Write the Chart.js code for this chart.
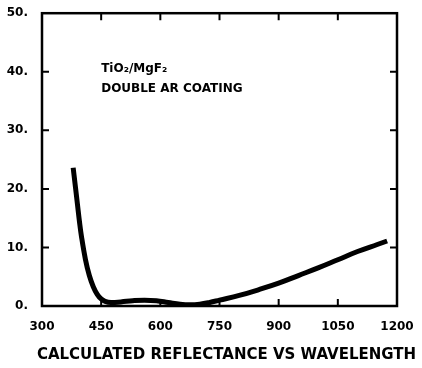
<!DOCTYPE html>
<html>
<head>
<meta charset="utf-8">
<script src="https://cdn.jsdelivr.net/npm/chart.js@4.4.0/dist/chart.umd.min.js"></script>
<style>
  html, body { margin: 0; padding: 0; background: #fff; }
  canvas { display: block; }
</style>
</head>
<body>
<canvas id="c" width="422" height="368"></canvas>
<script>
// wavelength (nm) and calculated reflectance (%)
var wavelength = [379, 385, 390, 395, 400, 410, 420, 430, 440, 450, 460, 475, 500, 530, 560, 590, 620, 650, 675, 700, 725, 750, 800, 850, 900, 950, 1000, 1050, 1100, 1150, 1175];
var reflectance = [23.6, 20.2, 17.3, 14.4, 11.9, 8.0, 5.2, 3.3, 2.0, 1.2, 0.8, 0.6, 0.7, 0.9, 1.0, 0.9, 0.6, 0.3, 0.2, 0.3, 0.6, 1.0, 1.8, 2.8, 3.9, 5.2, 6.5, 7.9, 9.3, 10.5, 11.1];

var xTicks = [300, 450, 600, 750, 900, 1050, 1200];
var yTicks = [0, 10, 20, 30, 40, 50];

var chartTitle = 'CALCULATED REFLECTANCE VS WAVELENGTH';
var noteLines = ['TiO\u2082/MgF\u2082', 'DOUBLE AR COATING'];

var points = wavelength.map(function (w, i) { return { x: w, y: reflectance[i] }; });

var tickFont = { family: 'DejaVu Sans', weight: 'bold', size: 12 };

// box frame, inward ticks, note and caption
var framePlugin = {
  id: 'frame',
  afterDraw: function (chart) {
    var ctx = chart.ctx;
    var a = chart.chartArea;
    var xs = chart.scales.x;
    var ys = chart.scales.y;
    var len = 7;

    ctx.save();
    ctx.strokeStyle = '#000';
    ctx.lineWidth = 2.5;
    ctx.strokeRect(a.left, a.top, a.right - a.left, a.bottom - a.top);

    ctx.lineWidth = 2;
    ctx.beginPath();
    xTicks.slice(1, -1).forEach(function (v) {
      var px = xs.getPixelForValue(v);
      ctx.moveTo(px, a.bottom);
      ctx.lineTo(px, a.bottom - len);
      ctx.moveTo(px, a.top);
      ctx.lineTo(px, a.top + len);
    });
    yTicks.slice(1, -1).forEach(function (v) {
      var py = ys.getPixelForValue(v);
      ctx.moveTo(a.left, py);
      ctx.lineTo(a.left + len, py);
      ctx.moveTo(a.right, py);
      ctx.lineTo(a.right - len, py);
    });
    ctx.stroke();

    // note inside the plot
    ctx.fillStyle = '#000';
    ctx.textAlign = 'left';
    ctx.textBaseline = 'middle';
    ctx.font = 'bold 12px "DejaVu Sans"';
    var nx = xs.getPixelForValue(450);
    ctx.fillText(noteLines[0], nx, ys.getPixelForValue(40.5));
    ctx.fillText(noteLines[1], nx, ys.getPixelForValue(37));

    // caption under the chart
    ctx.textAlign = 'center';
    ctx.font = 'bold 15px "DejaVu Sans"';
    ctx.fillText(chartTitle, (a.left + a.right) / 2 + 7, 355);
    ctx.restore();
  }
};

new Chart(document.getElementById('c'), {
  type: 'line',
  data: {
    datasets: [{
      data: points,
      borderColor: '#000',
      borderWidth: 5,
      pointRadius: 0,
      fill: false,
      tension: 0.4
    }]
  },
  options: {
    responsive: false,
    animation: false,
    layout: { padding: { left: 0, right: 25, top: 12, bottom: 32 } },
    plugins: {
      legend: { display: false },
      tooltip: { enabled: false }
    },
    scales: {
      x: {
        type: 'linear',
        min: 300,
        max: 1200,
        afterBuildTicks: function (s) { s.ticks = xTicks.map(function (v) { return { value: v }; }); },
        afterFit: function (s) { s.height = 30; },
        grid: { display: false },
        border: { display: false },
        ticks: {
          color: '#000',
          font: tickFont,
          padding: 6,
          maxRotation: 0,
          callback: function (v) { return String(v); }
        }
      },
      y: {
        min: 0,
        max: 50,
        afterBuildTicks: function (s) { s.ticks = yTicks.map(function (v) { return { value: v }; }); },
        afterFit: function (s) { s.width = 42; },
        grid: { display: false },
        border: { display: false },
        ticks: {
          color: '#000',
          font: tickFont,
          padding: 6,
          callback: function (v) { return v + '.'; }
        }
      }
    }
  },
  plugins: [framePlugin]
});
</script>
</body>
</html>
